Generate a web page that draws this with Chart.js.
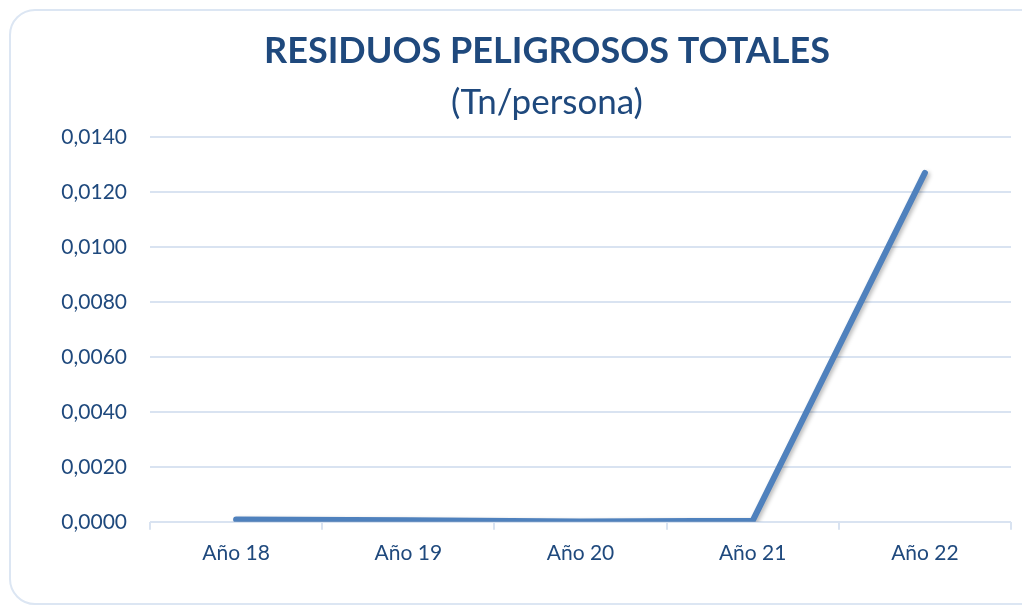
<!DOCTYPE html>
<html lang="es">
<head>
<meta charset="utf-8">
<title>Residuos peligrosos totales</title>
<script src="https://cdn.jsdelivr.net/npm/chart.js@4.4.1/dist/chart.umd.min.js"></script>
<style>
  html, body { margin: 0; padding: 0; background: #fff; overflow: hidden; }
  #card {
    position: absolute; left: 9px; top: 9px; width: 1040px; height: 596px;
    border: 2px solid #dce6f3; border-radius: 26px; box-sizing: border-box;
  }
  #myChart { position: absolute; left: 0; top: 0; }
</style>
</head>
<body>
<div id="card"></div>
<!-- el canvas es un poco mas ancho que la ventana para centrar el titulo como en el original -->
<canvas id="myChart" width="1034" height="609"></canvas>
<script>
// Datos del grafico
const categorias = ['Año 18', 'Año 19', 'Año 20', 'Año 21', 'Año 22'];
const valores = [0.00008, 0.00006, 0.00001, 0.00004, 0.0127];
const ejeY = { min: 0, max: 0.014, paso: 0.002 };

const azulTexto = '#1f497d';
const azulGrid = '#d9e3f1';

// sombra suave debajo de la linea
const sombraLinea = {
  id: 'sombraLinea',
  beforeDatasetsDraw(chart) {
    const c = chart.ctx;
    c.save();
    c.shadowColor = 'rgba(0,0,0,0.28)';
    c.shadowBlur = 4;
    c.shadowOffsetX = 2;
    c.shadowOffsetY = 2;
  },
  afterDatasetsDraw(chart) {
    chart.ctx.restore();
  }
};

const ctx = document.getElementById('myChart').getContext('2d');
const myChart = new Chart(ctx, {
  type: 'line',
  data: {
    labels: categorias,
    datasets: [{
      label: 'Tn/persona',
      data: valores,
      borderColor: '#4f81bd',
      borderWidth: 6,
      borderCapStyle: 'round',
      borderJoinStyle: 'miter',
      pointRadius: 0,
      tension: 0,
      yAxisID: 'y'
    }]
  },
  plugins: [sombraLinea],
  options: {
    responsive: false,
    animation: false,
    devicePixelRatio: 1,
    layout: { padding: { left: 60, right: 0, top: 30, bottom: 32 } },
    plugins: {
      legend: { display: false },
      tooltip: { enabled: false },
      title: {
        display: true,
        text: 'RESIDUOS PELIGROSOS TOTALES',
        color: azulTexto,
        font: { family: 'Lato', size: 36, weight: 'bold' },
        padding: { top: 0, bottom: 9 }
      },
      subtitle: {
        display: true,
        text: '(Tn/persona)',
        color: azulTexto,
        font: { family: 'Lato', size: 35, weight: 'normal' },
        padding: { top: 0, bottom: 13 }
      }
    },
    scales: {
      x: {
        offset: true,
        grid: {
          offset: true,
          drawOnChartArea: false,
          tickLength: 8,
          color: azulGrid,
          lineWidth: 2
        },
        border: { display: false },
        ticks: {
          color: azulTexto,
          font: { family: 'Lato', size: 21 },
          padding: 11,
          maxRotation: 0
        }
      },
      y: {
        min: ejeY.min,
        max: ejeY.max,
        grid: { color: azulGrid, lineWidth: 2, drawTicks: false },
        border: { display: false },
        ticks: {
          stepSize: ejeY.paso,
          color: azulTexto,
          font: { family: 'Lato', size: 21 },
          padding: 23,
          callback: v => v.toFixed(4).replace('.', ',')
        },
        afterFit(scale) {
          scale.width = 90;
        }
      },
      // eje vacio a la derecha, solo reserva espacio
      derecha: {
        type: 'linear',
        position: 'right',
        grid: { display: false, drawTicks: false },
        border: { display: false },
        ticks: { display: false },
        afterFit(scale) {
          scale.width = 23;
        }
      }
    }
  }
});
</script>
</body>
</html>
